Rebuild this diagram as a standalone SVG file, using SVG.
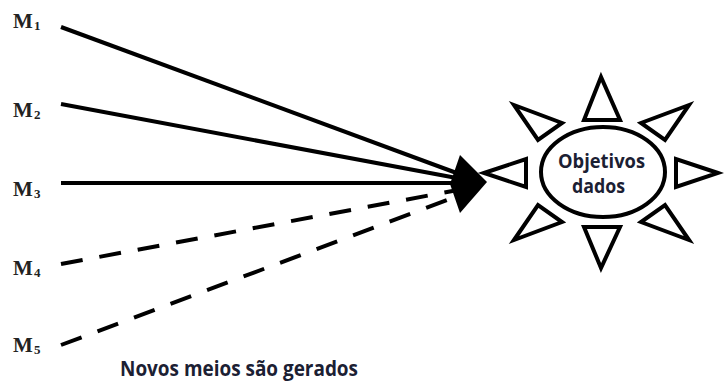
<svg xmlns="http://www.w3.org/2000/svg" width="724" height="383" viewBox="0 0 724 383">
<style>
.lbl{font-family:"Liberation Serif","Times New Roman",serif;font-weight:bold;fill:#222;}
.m{font-size:21px;}
.s{font-size:13px;}
.ln{stroke:#000;stroke-width:4;fill:none;}
.dash{stroke-dasharray:22 17;}
.tri{fill:#fff;stroke:#000;stroke-width:4;stroke-linejoin:miter;}
.txt{font-family:"Open Sans","Noto Sans","Liberation Sans",sans-serif;font-weight:bold;fill:#1b2033;}
</style>
<rect width="724" height="383" fill="#fff"/>
<g id="labels">
<g id="M1"><text class="lbl m" x="13" y="28">M</text><text class="lbl s" x="34" y="30">1</text></g>
<g id="M2"><text class="lbl m" x="13" y="117">M</text><text class="lbl s" x="34" y="119">2</text></g>
<g id="M3"><text class="lbl m" x="13" y="196">M</text><text class="lbl s" x="34" y="198">3</text></g>
<g id="M4"><text class="lbl m" x="13" y="275">M</text><text class="lbl s" x="34" y="277">4</text></g>
<g id="M5"><text class="lbl m" x="13" y="352">M</text><text class="lbl s" x="34" y="354">5</text></g>
</g>
<g id="connectors">
<line class="ln" x1="61" y1="27" x2="462" y2="175"/>
<line class="ln" x1="61" y1="104" x2="462" y2="179"/>
<line class="ln" x1="61" y1="183" x2="462" y2="183"/>
<line class="ln dash" x1="61" y1="264" x2="458" y2="190"/>
<line class="ln dash" x1="61" y1="345" x2="458" y2="196"/>
<polygon points="460,155 487,182 460,213 450,184" fill="#000"/>
</g>
<g id="sun">
<polygon class="tri" points="601,77 584,120 620,120"/>
<polygon class="tri" points="601,268 584,227 620,227"/>
<polygon class="tri" points="484,173 526,159 526,187"/>
<polygon class="tri" points="718,173 676,159 676,187"/>
<polygon class="tri" points="514,105 562,123 538,140"/>
<polygon class="tri" points="689,105 641,123 665,140"/>
<polygon class="tri" points="514,240 538,205 562,222"/>
<polygon class="tri" points="689,240 665,205 641,222"/>
<ellipse cx="603" cy="172" rx="62" ry="45" fill="#fff" stroke="#000" stroke-width="4"/>
<text class="txt" x="558" y="168" font-size="19" textLength="87" lengthAdjust="spacingAndGlyphs">Objetivos</text>
<text class="txt" x="572" y="193" font-size="19" textLength="53" lengthAdjust="spacingAndGlyphs">dados</text>
</g>
<text class="txt" x="120" y="376" font-size="21" textLength="238" lengthAdjust="spacingAndGlyphs">Novos meios são gerados</text>
</svg>
